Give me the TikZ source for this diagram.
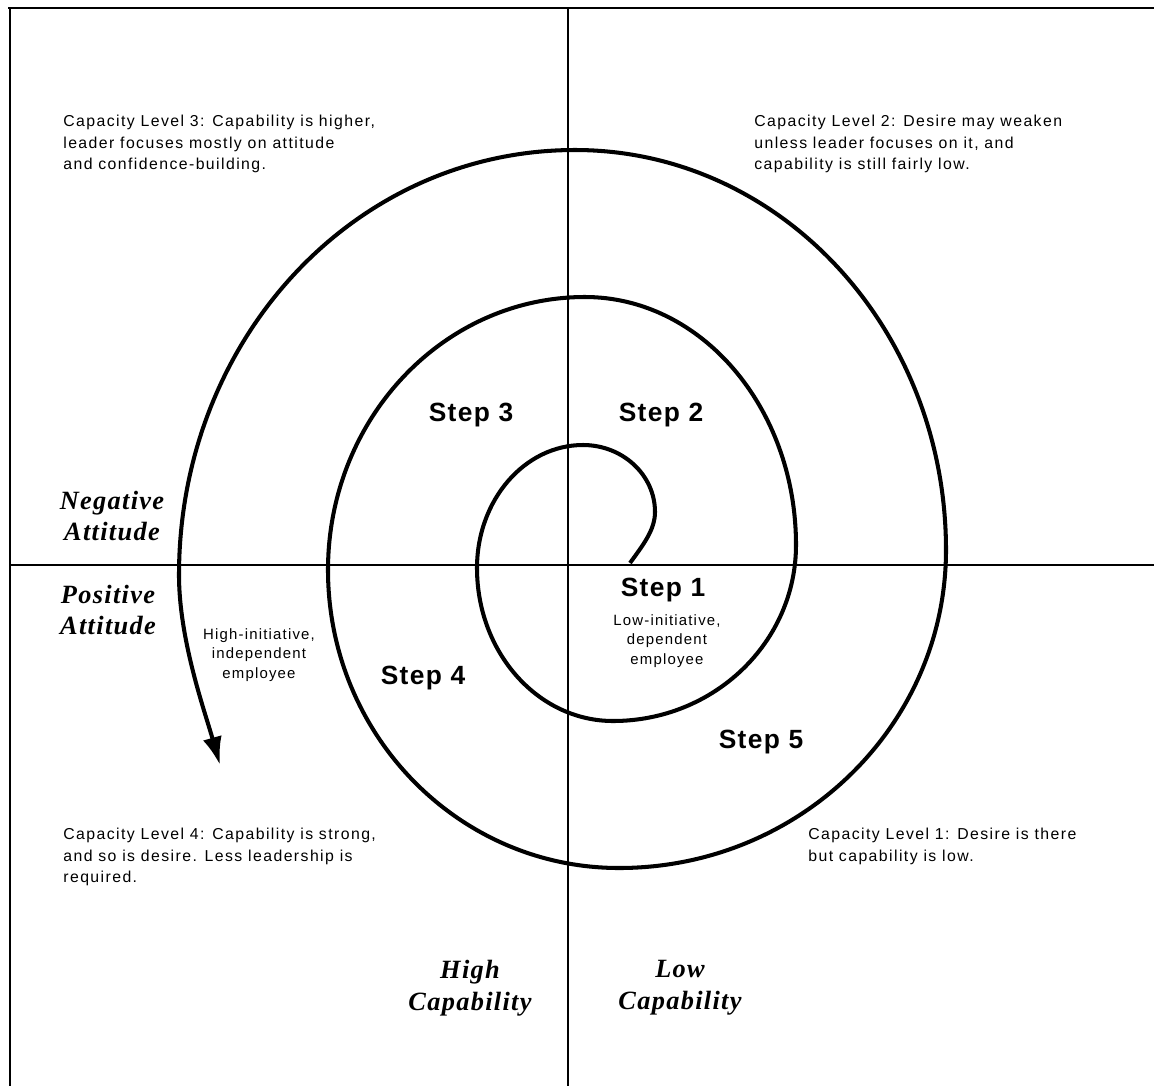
\documentclass[tikz,border=0pt]{standalone}
\usepackage{fontspec}
\setmainfont{Liberation Sans}
\newfontfamily\capfont[LetterSpace=9]{Liberation Sans}
\newfontfamily\smallfont[LetterSpace=8]{Liberation Sans}
\newfontfamily\stepfontf[LetterSpace=5]{Liberation Sans}
\newfontfamily\attfont[LetterSpace=5]{Liberation Serif}
\usetikzlibrary{arrows.meta}
\tikzset{
  captext/.style={anchor=north west, align=left, inner sep=0pt,
    font=\capfont\fontsize{9}{12.2}\selectfont},
  smalltext/.style={align=center, inner sep=0pt,
    font=\smallfont\fontsize{8.5}{11.3}\selectfont},
  steplabel/.style={inner sep=0pt, font=\stepfontf\fontsize{15}{18}\selectfont\bfseries},
  attlabel/.style={align=center, inner sep=0pt,
    font=\attfont\fontsize{15}{18}\selectfont\bfseries\itshape},
  spiral/.style={line width=2.3pt, line join=round},
  frameline/.style={line width=1.7pt},
  axisline/.style={line width=1.3pt},
}
\begin{document}
\begin{tikzpicture}[x=0.02cm, y=-0.02cm]
\useasboundingbox[fill=white] (0,0) rectangle (1154,1086);
% frame and axes
\draw[frameline] (8,8) -- (1154,8);
\draw[frameline] (10,8) -- (10,1086);
\draw[line width=1.5pt] (568,8) -- (568,1086);
\draw[axisline] (10,565) -- (1154,565);
% spiral, built from quarter-ellipse pieces
\coordinate (S)  at (630,563);
\coordinate (R1) at (655,512);
\coordinate (T1) at (583,445);
\coordinate (L1) at (477,568);
\coordinate (B1) at (613,721);
\coordinate (R2) at (796,545);
\coordinate (T2) at (585,297);
\coordinate (L2) at (328,570);
\coordinate (B2) at (619,868);
\coordinate (R3) at (946,550);
\coordinate (T3) at (575,150);
\coordinate (L3) at (179,575);
\coordinate (E)  at (220,765);
\draw[spiral, -{Latex[length=16pt,width=11pt]}]
  (S)  .. controls (643,545)   and (655,530)   .. (R1)
       .. controls (655,475)   and (622.8,445) .. (T1)
       .. controls (524.5,445) and (477,500.1) .. (L1)
       .. controls (477,652.5) and (537.9,721) .. (B1)
       .. controls (714.1,721) and (796,642.2) .. (R2)
       .. controls (796,408)   and (701.5,297) .. (T2)
       .. controls (443.1,297) and (328,419.2) .. (L2)
       .. controls (328,734.6) and (458.3,868) .. (B2)
       .. controls (799.6,868) and (946,725.6) .. (R3)
       .. controls (946,329.1) and (780.7,150) .. (T3)
       .. controls (353.6,150) and (179,340.3) .. (L3)
       .. controls (179,640)   and (205,712)   .. (E);
% quadrant texts
\node[captext] (lvl3) at (63,115) {Capacity Level 3: Capability is higher,\\leader focuses mostly on attitude\\and confidence-building.};
\node[captext] (lvl2) at (754,115) {Capacity Level 2: Desire may weaken\\unless leader focuses on it, and\\capability is still fairly low.};
\node[captext] (lvl4) at (63,828) {Capacity Level 4: Capability is strong,\\and so is desire. Less leadership is\\required.};
\node[captext] (lvl1) at (808,828) {Capacity Level 1: Desire is there\\but capability is low.};
% axis labels
\node[attlabel] (neg) at (112,516) {Negative\\Attitude};
\node[attlabel] (pos) at (108,610) {Positive\\Attitude};
\node[attlabel] (hicap) at (470,988) {High\\Capability};
\node[attlabel] (locap) at (680,988) {Low\\Capability};
% steps
\node[steplabel] (s1) at (663,590) {Step 1};
\node[steplabel] (s2) at (661,415) {Step 2};
\node[steplabel] (s3) at (471,415) {Step 3};
\node[steplabel] (s4) at (423,678) {Step 4};
\node[steplabel] (s5) at (761,742) {Step 5};
\node[smalltext] (lowi) at (667,641) {Low-initiative,\\dependent\\employee};
\node[smalltext] (highi) at (259,655) {High-initiative,\\independent\\employee};
\end{tikzpicture}
\end{document}
